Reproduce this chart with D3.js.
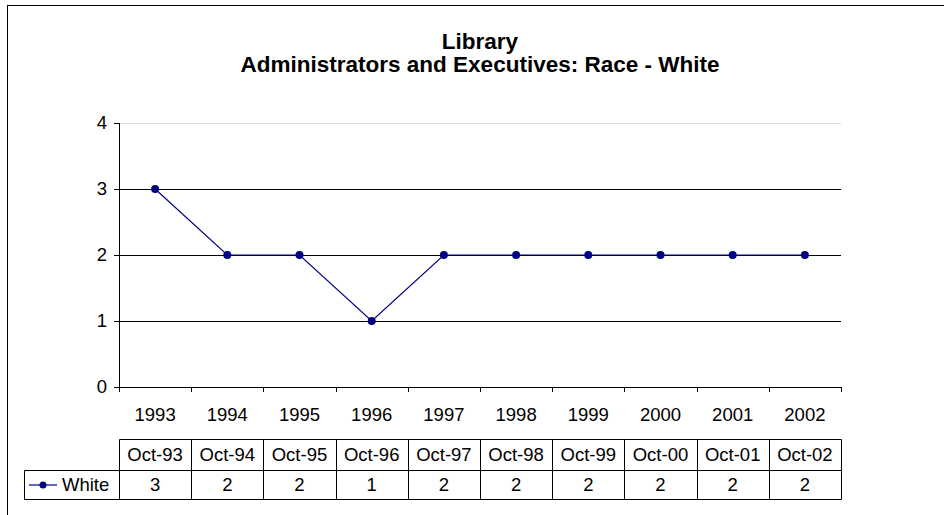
<!DOCTYPE html>
<html>
<head>
<meta charset="utf-8">
<script src="https://cdn.jsdelivr.net/npm/d3@7"></script>
<style>
  body { margin: 0; background: #fff; }
  text { font-family: "Liberation Sans", Arial, sans-serif; fill: #000; }
</style>
</head>
<body>
<div class="chart"></div>
<script>
const years = ['1993', '1994', '1995', '1996', '1997', '1998', '1999', '2000', '2001', '2002'];
const dates = ['Oct-93', 'Oct-94', 'Oct-95', 'Oct-96', 'Oct-97', 'Oct-98', 'Oct-99', 'Oct-00', 'Oct-01', 'Oct-02'];
const white = [3, 2, 2, 1, 2, 2, 2, 2, 2, 2];
const yTicks = [0, 1, 2, 3, 4];
const seriesName = 'White';

const W = 944, H = 515;
const margin = { top: 123, right: 103, bottom: 128, left: 119 },
  width = W - margin.left - margin.right,
  height = H - margin.top - margin.bottom;
const fs = '18.5px';

const svg = d3.select('.chart').append('svg')
  .attr('width', W).attr('height', H);

// outer chart frame
svg.append('rect')
  .attr('x', 7.5).attr('y', 5.5)
  .attr('width', W).attr('height', H)
  .attr('fill', 'none').attr('stroke', '#000').attr('stroke-width', 1);

svg.append('text')
  .attr('x', 480).attr('y', 49)
  .attr('text-anchor', 'middle')
  .style('font-size', '22.5px').style('font-weight', 'bold')
  .text('Library');
svg.append('text')
  .attr('x', 480).attr('y', 72)
  .attr('text-anchor', 'middle')
  .style('font-size', '22.5px').style('font-weight', 'bold')
  .text('Administrators and Executives: Race - White');

const x = d3.scaleBand().domain(years).range([0, width]);
const y = d3.scaleLinear().domain([0, 4]).range([height, 0]);

const g = svg.append('g')
  .attr('transform', 'translate(' + margin.left + ',' + margin.top + ')');

// gridlines
g.selectAll('.grid')
  .data(yTicks.filter(function(d) { return d > 0; }))
  .enter().append('line')
  .attr('x1', 0).attr('x2', width)
  .attr('y1', function(d) { return Math.round(y(d)) + 0.5; })
  .attr('y2', function(d) { return Math.round(y(d)) + 0.5; })
  .attr('stroke', function(d) { return d === 4 ? '#ddd' : '#000'; })
  .attr('stroke-width', 1);

// y axis
g.append('line')
  .attr('x1', 0.5).attr('x2', 0.5).attr('y1', 0).attr('y2', height)
  .attr('stroke', '#000');
g.selectAll('.ytick')
  .data(yTicks)
  .enter().append('line')
  .attr('x1', -5).attr('x2', 0)
  .attr('y1', function(d) { return Math.round(y(d)) + 0.5; })
  .attr('y2', function(d) { return Math.round(y(d)) + 0.5; })
  .attr('stroke', '#000');
g.selectAll('.ylab')
  .data(yTicks)
  .enter().append('text')
  .attr('x', -12)
  .attr('y', function(d) { return y(d); })
  .attr('dy', '0.35em')
  .attr('text-anchor', 'end')
  .style('font-size', fs)
  .text(function(d) { return d; });

// x axis
g.append('line')
  .attr('x1', 0).attr('x2', width)
  .attr('y1', height + 0.5).attr('y2', height + 0.5)
  .attr('stroke', '#000');
g.selectAll('.xtick')
  .data(years.concat(['end']))
  .enter().append('line')
  .attr('x1', function(d, i) { return Math.round(i * x.step()) + 0.5; })
  .attr('x2', function(d, i) { return Math.round(i * x.step()) + 0.5; })
  .attr('y1', height).attr('y2', height + 5)
  .attr('stroke', '#000');
g.selectAll('.xlab')
  .data(years)
  .enter().append('text')
  .attr('x', function(d) { return x(d) + x.bandwidth() / 2; })
  .attr('y', height + 28)
  .attr('dy', '0.35em')
  .attr('text-anchor', 'middle')
  .style('font-size', fs)
  .text(function(d) { return d; });

// line + markers
const line = d3.line()
  .x(function(d, i) { return x(years[i]) + x.bandwidth() / 2; })
  .y(function(d) { return y(d); });

g.append('path')
  .datum(white)
  .attr('d', line)
  .attr('fill', 'none')
  .attr('stroke', '#000080')
  .attr('stroke-width', 1.2);

g.selectAll('.dot')
  .data(white)
  .enter().append('circle')
  .attr('cx', function(d, i) { return x(years[i]) + x.bandwidth() / 2; })
  .attr('cy', function(d) { return y(d); })
  .attr('r', 4)
  .attr('fill', '#000080');

// data table
const t1 = 439.5, t2 = 470.5, t3 = 499.5;
const tg = svg.append('g');
const x0 = margin.left + 0.5, x1 = margin.left + width + 0.5, lx = 24.5;

tg.append('line').attr('x1', x0).attr('x2', x1).attr('y1', t1).attr('y2', t1).attr('stroke', '#000');
tg.append('line').attr('x1', lx).attr('x2', x1).attr('y1', t2).attr('y2', t2).attr('stroke', '#000');
tg.append('line').attr('x1', lx).attr('x2', x1).attr('y1', t3).attr('y2', t3).attr('stroke', '#000');
tg.append('line').attr('x1', lx).attr('x2', lx).attr('y1', t2).attr('y2', t3).attr('stroke', '#000');

tg.selectAll('.col')
  .data(years.concat(['end']))
  .enter().append('line')
  .attr('x1', function(d, i) { return margin.left + Math.round(i * x.step()) + 0.5; })
  .attr('x2', function(d, i) { return margin.left + Math.round(i * x.step()) + 0.5; })
  .attr('y1', t1).attr('y2', t3)
  .attr('stroke', '#000');

tg.selectAll('.hdr')
  .data(dates)
  .enter().append('text')
  .attr('x', function(d, i) { return margin.left + x(years[i]) + x.bandwidth() / 2; })
  .attr('y', (t1 + t2) / 2)
  .attr('dy', '0.35em')
  .attr('text-anchor', 'middle')
  .style('font-size', fs)
  .text(function(d) { return d; });

tg.selectAll('.val')
  .data(white)
  .enter().append('text')
  .attr('x', function(d, i) { return margin.left + x(years[i]) + x.bandwidth() / 2; })
  .attr('y', (t2 + t3) / 2)
  .attr('dy', '0.35em')
  .attr('text-anchor', 'middle')
  .style('font-size', fs)
  .text(function(d) { return d; });

// legend key in table
const ky = (t2 + t3) / 2;
tg.append('line').attr('x1', 29).attr('x2', 57).attr('y1', ky).attr('y2', ky)
  .attr('stroke', '#000080').attr('stroke-width', 1.2);
tg.append('circle').attr('cx', 43).attr('cy', ky).attr('r', 3.5).attr('fill', '#000080');
tg.append('text')
  .attr('x', 62).attr('y', ky).attr('dy', '0.35em')
  .style('font-size', fs)
  .text(seriesName);
</script>
</body>
</html>
